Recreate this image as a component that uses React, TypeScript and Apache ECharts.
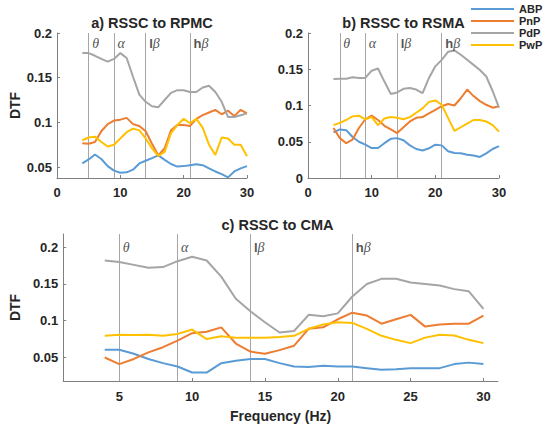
import React, { useEffect, useRef } from "react";
import * as echarts from "echarts";

const freqs = [4, 5, 6, 7, 8, 9, 10, 11, 12, 13, 14, 15, 16, 17, 18, 19, 20, 21, 22, 23, 24, 25, 26, 27, 28, 29, 30];
const seriesNames = ["ABP", "PnP", "PdP", "PwP"];
const seriesColors = ["#5B9BD5", "#ED7D31", "#A5A5A5", "#FFC000"];

const aABP = [0.054, 0.0585, 0.064, 0.059, 0.051, 0.046, 0.0436, 0.044, 0.047, 0.054, 0.057, 0.06, 0.063, 0.058, 0.0534, 0.0505, 0.051, 0.052, 0.053, 0.052, 0.0485, 0.045, 0.042, 0.0384, 0.045, 0.0485, 0.051];
const aPnP = [0.0765, 0.076, 0.078, 0.09, 0.098, 0.102, 0.103, 0.105, 0.098, 0.096, 0.09, 0.076, 0.063, 0.071, 0.091, 0.097, 0.097, 0.096, 0.104, 0.108, 0.111, 0.114, 0.109, 0.113, 0.107, 0.114, 0.11];
const aPdP = [0.1775, 0.1775, 0.1745, 0.171, 0.168, 0.171, 0.1775, 0.172, 0.151, 0.131, 0.123, 0.118, 0.117, 0.125, 0.133, 0.136, 0.136, 0.134, 0.134, 0.139, 0.141, 0.134, 0.123, 0.106, 0.106, 0.108, 0.11];
const aPwP = [0.08, 0.083, 0.084, 0.078, 0.073, 0.075, 0.082, 0.089, 0.093, 0.091, 0.082, 0.071, 0.0625, 0.067, 0.088, 0.097, 0.104, 0.099, 0.104, 0.094, 0.075, 0.0635, 0.083, 0.082, 0.075, 0.075, 0.062];

const bABP = [0.063, 0.067, 0.066, 0.0565, 0.05, 0.046, 0.0413, 0.0413, 0.048, 0.054, 0.055, 0.052, 0.045, 0.04, 0.038, 0.041, 0.046, 0.045, 0.037, 0.0344, 0.034, 0.032, 0.031, 0.029, 0.034, 0.04, 0.044];
const bPnP = [0.069, 0.055, 0.048, 0.053, 0.069, 0.081, 0.086, 0.08, 0.072, 0.067, 0.062, 0.07, 0.078, 0.083, 0.084, 0.089, 0.094, 0.099, 0.102, 0.1, 0.11, 0.122, 0.113, 0.106, 0.101, 0.097, 0.099];
const bPdP = [0.1365, 0.137, 0.137, 0.139, 0.138, 0.138, 0.148, 0.151, 0.133, 0.116, 0.118, 0.123, 0.124, 0.122, 0.117, 0.138, 0.154, 0.163, 0.174, 0.176, 0.17, 0.163, 0.156, 0.149, 0.14, 0.12, 0.097];
const bPwP = [0.073, 0.076, 0.08, 0.085, 0.086, 0.081, 0.084, 0.073, 0.082, 0.084, 0.083, 0.081, 0.084, 0.09, 0.096, 0.105, 0.107, 0.101, 0.083, 0.065, 0.07, 0.075, 0.08, 0.08, 0.078, 0.073, 0.064];

const cABP = [0.0605, 0.0605, 0.055, 0.048, 0.0423, 0.0377, 0.0295, 0.0295, 0.0423, 0.0455, 0.048, 0.048, 0.0423, 0.0377, 0.037, 0.0386, 0.0377, 0.0377, 0.0355, 0.0332, 0.034, 0.0355, 0.0355, 0.0355, 0.041, 0.043, 0.041];
const cPnP = [0.05, 0.041, 0.048, 0.057, 0.064, 0.073, 0.083, 0.085, 0.091, 0.069, 0.058, 0.055, 0.06, 0.066, 0.089, 0.091, 0.102, 0.111, 0.107, 0.096, 0.102, 0.108, 0.092, 0.095, 0.096, 0.096, 0.107];
const cPdP = [0.182, 0.18, 0.176, 0.172, 0.173, 0.181, 0.187, 0.182, 0.16, 0.13, 0.113, 0.098, 0.084, 0.086, 0.108, 0.106, 0.11, 0.133, 0.15, 0.157, 0.157, 0.152, 0.15, 0.148, 0.143, 0.14, 0.116];
const cPwP = [0.0795, 0.081, 0.0805, 0.081, 0.0795, 0.082, 0.088, 0.075, 0.079, 0.077, 0.077, 0.077, 0.0777, 0.0795, 0.089, 0.095, 0.098, 0.097, 0.089, 0.0795, 0.074, 0.0695, 0.077, 0.081, 0.08, 0.074, 0.0695];

const panelTitles = ["a) RSSC to RPMC", "b) RSSC to RSMA", "c) RSSC to CMA"];
const panelData = [
  [aABP, aPnP, aPdP, aPwP],
  [bABP, bPnP, bPdP, bPwP],
  [cABP, cPnP, cPdP, cPwP],
];

const bandEdges = [5, 9, 14, 21];
const bandLatin = ["", "", "l", "h"];
const bandGreek = ["θ", "α", "β", "β"];
const bandLabelY = [0.188, 0.186, 0.2];

const xTicksAB = [0, 10, 20, 30];
const xTicksC = [5, 10, 15, 20, 25, 30];
const yTicksA = [0.05, 0.1, 0.15, 0.2];
const yTicksB = [0, 0.05, 0.1, 0.15, 0.2];
const yTicksC = [0.05, 0.1, 0.15, 0.2];

const TXT = "#262626";
const AXIS = "#7f7f7f";
const FONT = "'Liberation Sans', Arial, sans-serif";

export default function App() {
  const ref = useRef<HTMLDivElement>(null);
  useEffect(() => {
    if (!ref.current) return;
    const chart = echarts.init(ref.current, undefined, { renderer: "svg" });

    const grids = [
      { left: 57, top: 33, width: 190, height: 145 },
      { left: 308, top: 33, width: 191, height: 145 },
      { left: 57, top: 234, width: 441, height: 147 },
    ];
    const xRanges = [
      [0, 30],
      [0, 30],
      [1.15, 31],
    ];
    const yRanges = [
      [0.0377, 0.2],
      [0, 0.2],
      [0.018, 0.218],
    ];
    const xTickSets = [xTicksAB, xTicksAB, xTicksC];
    const yTickSets = [yTicksA, yTicksB, yTicksC];

    const axisLabelStyle = { color: TXT, fontFamily: FONT, fontWeight: "bold" as const, fontSize: 13 };

    const xAxes = grids.map((_, i) => ({
      type: "value",
      gridIndex: i,
      min: xRanges[i][0],
      max: xRanges[i][1],
      splitLine: { show: false },
      axisLine: { show: true, lineStyle: { color: AXIS, width: 1 } },
      axisTick: { show: true, inside: true, length: 3, lineStyle: { color: AXIS }, customValues: xTickSets[i] },
      axisLabel: { ...axisLabelStyle, margin: i === 2 ? 9 : 8, customValues: xTickSets[i], showMinLabel: true, showMaxLabel: true },
      name: i === 2 ? "Frequency (Hz)" : "",
      nameLocation: "middle",
      nameGap: 28,
      nameTextStyle: { color: TXT, fontFamily: FONT, fontWeight: "bold", fontSize: 14 },
    }));

    const yAxes = grids.map((_, i) => ({
      type: "value",
      gridIndex: i,
      min: yRanges[i][0],
      max: yRanges[i][1],
      splitLine: { show: false },
      axisLine: { show: true, lineStyle: { color: AXIS, width: 1 } },
      axisTick: { show: true, inside: true, length: 3, lineStyle: { color: AXIS }, customValues: yTickSets[i] },
      axisLabel: { ...axisLabelStyle, margin: 5, customValues: yTickSets[i], showMinLabel: true, showMaxLabel: true },
      name: i === 1 ? "" : "DTF",
      nameLocation: "middle",
      nameGap: i === 2 ? 37 : 35,
      nameTextStyle: { color: TXT, fontFamily: FONT, fontWeight: "bold", fontSize: 14 },
    }));

    const series: any[] = [];
    panelData.forEach((group, gi) => {
      group.forEach((vals, si) => {
        series.push({
          type: "line",
          name: seriesNames[si],
          xAxisIndex: gi,
          yAxisIndex: gi,
          data: freqs.map((f, k) => [f, vals[k]]),
          showSymbol: false,
          symbol: "none",
          lineStyle: { color: seriesColors[si], width: 2 },
          itemStyle: { color: seriesColors[si] },
          z: 3,
        });
      });
      series.push({
        type: "scatter",
        name: "bands" + gi,
        xAxisIndex: gi,
        yAxisIndex: gi,
        silent: true,
        symbolSize: 1,
        itemStyle: { color: "rgba(0,0,0,0)" },
        z: 4,
        data: bandEdges.map((x, k) => ({
          value: [x, bandLabelY[gi]],
          label: {
            formatter: (bandLatin[k] ? "{s|" + bandLatin[k] + "}" : "") + "{g|" + bandGreek[k] + "}",
          },
        })),
        label: {
          show: true,
          position: "right",
          distance: 3,
          rich: {
            s: { fontFamily: FONT, fontWeight: "bold", fontSize: 13, color: TXT },
            g: { fontFamily: "'Liberation Serif', 'Times New Roman', serif", fontStyle: "italic", fontSize: 14, color: TXT },
          },
        },
        markLine: {
          silent: true,
          symbol: ["none", "none"],
          label: { show: false },
          lineStyle: { color: "#a6a6a6", width: 1, type: "solid" },
          data: bandEdges.map((x) => ({ xAxis: x })),
          z: 2,
        },
      });
    });

    chart.setOption({
      animation: false,
      backgroundColor: "#ffffff",
      textStyle: { fontFamily: FONT },
      title: grids.map((g, i) => ({
        text: panelTitles[i],
        left: g.left + g.width / 2,
        top: i === 2 ? 216 : 14,
        textAlign: "center",
        padding: 0,
        textStyle: { color: TXT, fontFamily: FONT, fontWeight: "bold", fontSize: 14.5, lineHeight: 17 },
      })),
      legend: {
        orient: "vertical",
        left: 471,
        top: 3,
        padding: 0,
        itemGap: 0,
        itemWidth: 43,
        itemHeight: 2,
        icon: "rect",
        data: seriesNames,
        textStyle: { color: TXT, fontFamily: FONT, fontWeight: "bold", fontSize: 11, lineHeight: 12 },
      },
      grid: grids,
      xAxis: xAxes,
      yAxis: yAxes,
      series,
    });
    return () => chart.dispose();
  }, []);
  return <div ref={ref} style={{ position: "fixed", left: 0, top: 0, width: 550, height: 427 }} />;
}
